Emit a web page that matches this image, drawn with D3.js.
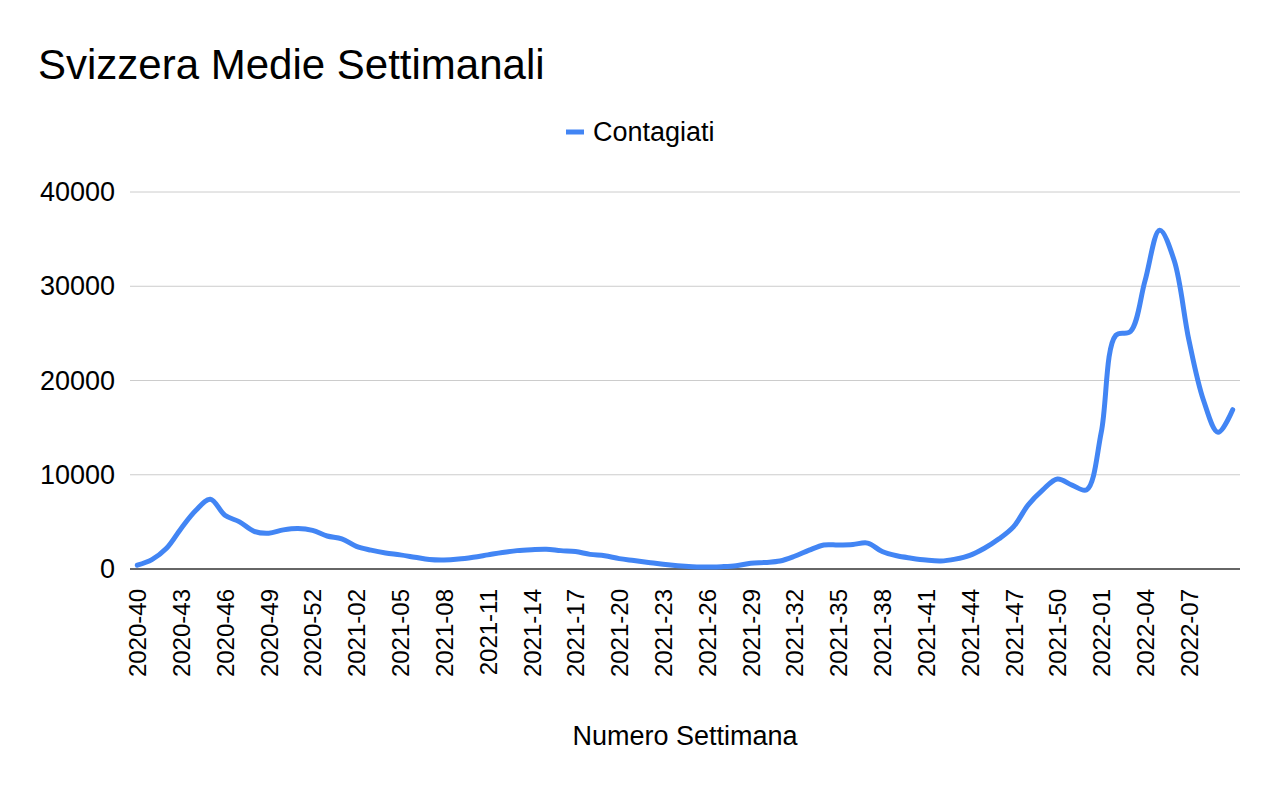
<!DOCTYPE html>
<html>
    <head>
        <title>Svizzera Medie Settimanali</title>
        <style>
            body { margin: 0; background: #fff; }
            text { font-family: "Liberation Sans", Arial, sans-serif; }
        </style>
    </head>
    <body>
        <svg width="1280" height="791" id="lienzo"></svg>

        <script src="https://cdn.jsdelivr.net/npm/d3@7/dist/d3.min.js"></script>
        <script>
            // settimane (categorie asse x)
            const settimane = [
                "2020-40", "2020-41", "2020-42", "2020-43", "2020-44", "2020-45", "2020-46", "2020-47",
                "2020-48", "2020-49", "2020-50", "2020-51", "2020-52", "2020-53",
                "2021-01", "2021-02", "2021-03", "2021-04", "2021-05", "2021-06", "2021-07", "2021-08",
                "2021-09", "2021-10", "2021-11", "2021-12", "2021-13", "2021-14", "2021-15", "2021-16",
                "2021-17", "2021-18", "2021-19", "2021-20", "2021-21", "2021-22", "2021-23", "2021-24",
                "2021-25", "2021-26", "2021-27", "2021-28", "2021-29", "2021-30", "2021-31", "2021-32",
                "2021-33", "2021-34", "2021-35", "2021-36", "2021-37", "2021-38", "2021-39", "2021-40",
                "2021-41", "2021-42", "2021-43", "2021-44", "2021-45", "2021-46", "2021-47", "2021-48",
                "2021-49", "2021-50", "2021-51", "2021-52",
                "2022-01", "2022-02", "2022-03", "2022-04", "2022-05", "2022-06", "2022-07", "2022-08",
                "2022-09", "2022-10"
            ];

            // media settimanale contagiati
            const contagiati = [
                400, 1000, 2200, 4300, 6200, 7400, 5700, 5000,
                4000, 3800, 4150, 4300, 4100, 3500,
                3200, 2400, 2000, 1700, 1500, 1250, 1000, 950,
                1050, 1250, 1500, 1750, 1950, 2050, 2100, 1950,
                1850, 1550, 1400, 1100, 900, 700, 500, 350,
                250, 200, 250, 350, 600, 700, 850, 1350,
                2000, 2550, 2550, 2600, 2750, 1850, 1400, 1150,
                950, 850, 1050, 1450, 2200, 3200, 4500, 6800,
                8400, 9550, 8900, 8400,
                14500, 24800, 25200, 30600, 35950, 32700, 24300, 17900,
                14500, 16900
            ];

            const yTicks = [0, 10000, 20000, 30000, 40000];

            // etichette mostrate sull'asse x (una ogni tre settimane)
            const xTicks = [
                "2020-40", "2020-43", "2020-46", "2020-49", "2020-52", "2021-02", "2021-05", "2021-08",
                "2021-11", "2021-14", "2021-17", "2021-20", "2021-23", "2021-26", "2021-29", "2021-32",
                "2021-35", "2021-38", "2021-41", "2021-44", "2021-47", "2021-50", "2022-01", "2022-04",
                "2022-07"
            ];

            const margine = { sx: 130, dx: 1240, alto: 192, basso: 569 };

            const svg = d3.select("#lienzo");

            const xScale = d3.scalePoint()
                .domain(settimane)
                .range([margine.sx, margine.dx])
                .padding(0.5);

            const yScale = d3.scaleLinear()
                .domain([0, 40000])
                .range([margine.basso, margine.alto]);

            // titolo
            svg.append("text")
                .attr("x", 38)
                .attr("y", 79)
                .attr("font-size", 42)
                .attr("fill", "#000")
                .text("Svizzera Medie Settimanali");

            // legenda
            svg.append("line")
                .attr("x1", 566).attr("x2", 584)
                .attr("y1", 132).attr("y2", 132)
                .attr("stroke", "#4285f4")
                .attr("stroke-width", 5);
            svg.append("text")
                .attr("x", 593)
                .attr("y", 132)
                .attr("dy", "0.35em")
                .attr("font-size", 27)
                .text("Contagiati");

            // griglia
            svg.append("g")
                .selectAll("line")
                .data(yTicks.filter(d => d > 0))
                .enter()
                .append("line")
                .attr("x1", margine.sx).attr("x2", margine.dx)
                .attr("y1", d => yScale(d)).attr("y2", d => yScale(d))
                .attr("stroke", "#cccccc")
                .attr("stroke-width", 1);

            // asse y
            const yAxis = d3.axisLeft(yScale)
                .tickValues(yTicks)
                .tickFormat(d3.format("d"))
                .tickSize(0)
                .tickPadding(15);
            const gy = svg.append("g")
                .attr("transform", "translate(" + margine.sx + ",0)")
                .call(yAxis);
            gy.select(".domain").remove();
            gy.selectAll("text").attr("font-size", 27).attr("fill", "#000");

            // asse x
            const xAxis = d3.axisBottom(xScale)
                .tickValues(xTicks)
                .tickSize(0);
            const gx = svg.append("g")
                .attr("transform", "translate(0," + margine.basso + ")")
                .call(xAxis);
            gx.select(".domain")
                .attr("d", "M" + margine.sx + ",0H" + margine.dx)
                .attr("stroke", "#333")
                .attr("stroke-width", 1.5);
            gx.selectAll("text")
                .attr("font-size", 24)
                .attr("fill", "#000")
                .attr("text-anchor", "end")
                .attr("transform", "rotate(-90)")
                .attr("x", -20)
                .attr("y", 0)
                .attr("dy", "0.35em");

            // titolo asse x
            svg.append("text")
                .attr("x", (margine.sx + margine.dx) / 2)
                .attr("y", 745)
                .attr("text-anchor", "middle")
                .attr("font-size", 27)
                .text("Numero Settimana");

            // linea
            const line = d3.line()
                .x((d, i) => xScale(settimane[i]))
                .y(d => yScale(d))
                .curve(d3.curveCatmullRom.alpha(0.5));

            svg.append("path")
                .datum(contagiati)
                .attr("d", line)
                .attr("fill", "none")
                .attr("stroke", "#4285f4")
                .attr("stroke-width", 5)
                .attr("stroke-linejoin", "round")
                .attr("stroke-linecap", "round");
        </script>
    </body>
</html>
